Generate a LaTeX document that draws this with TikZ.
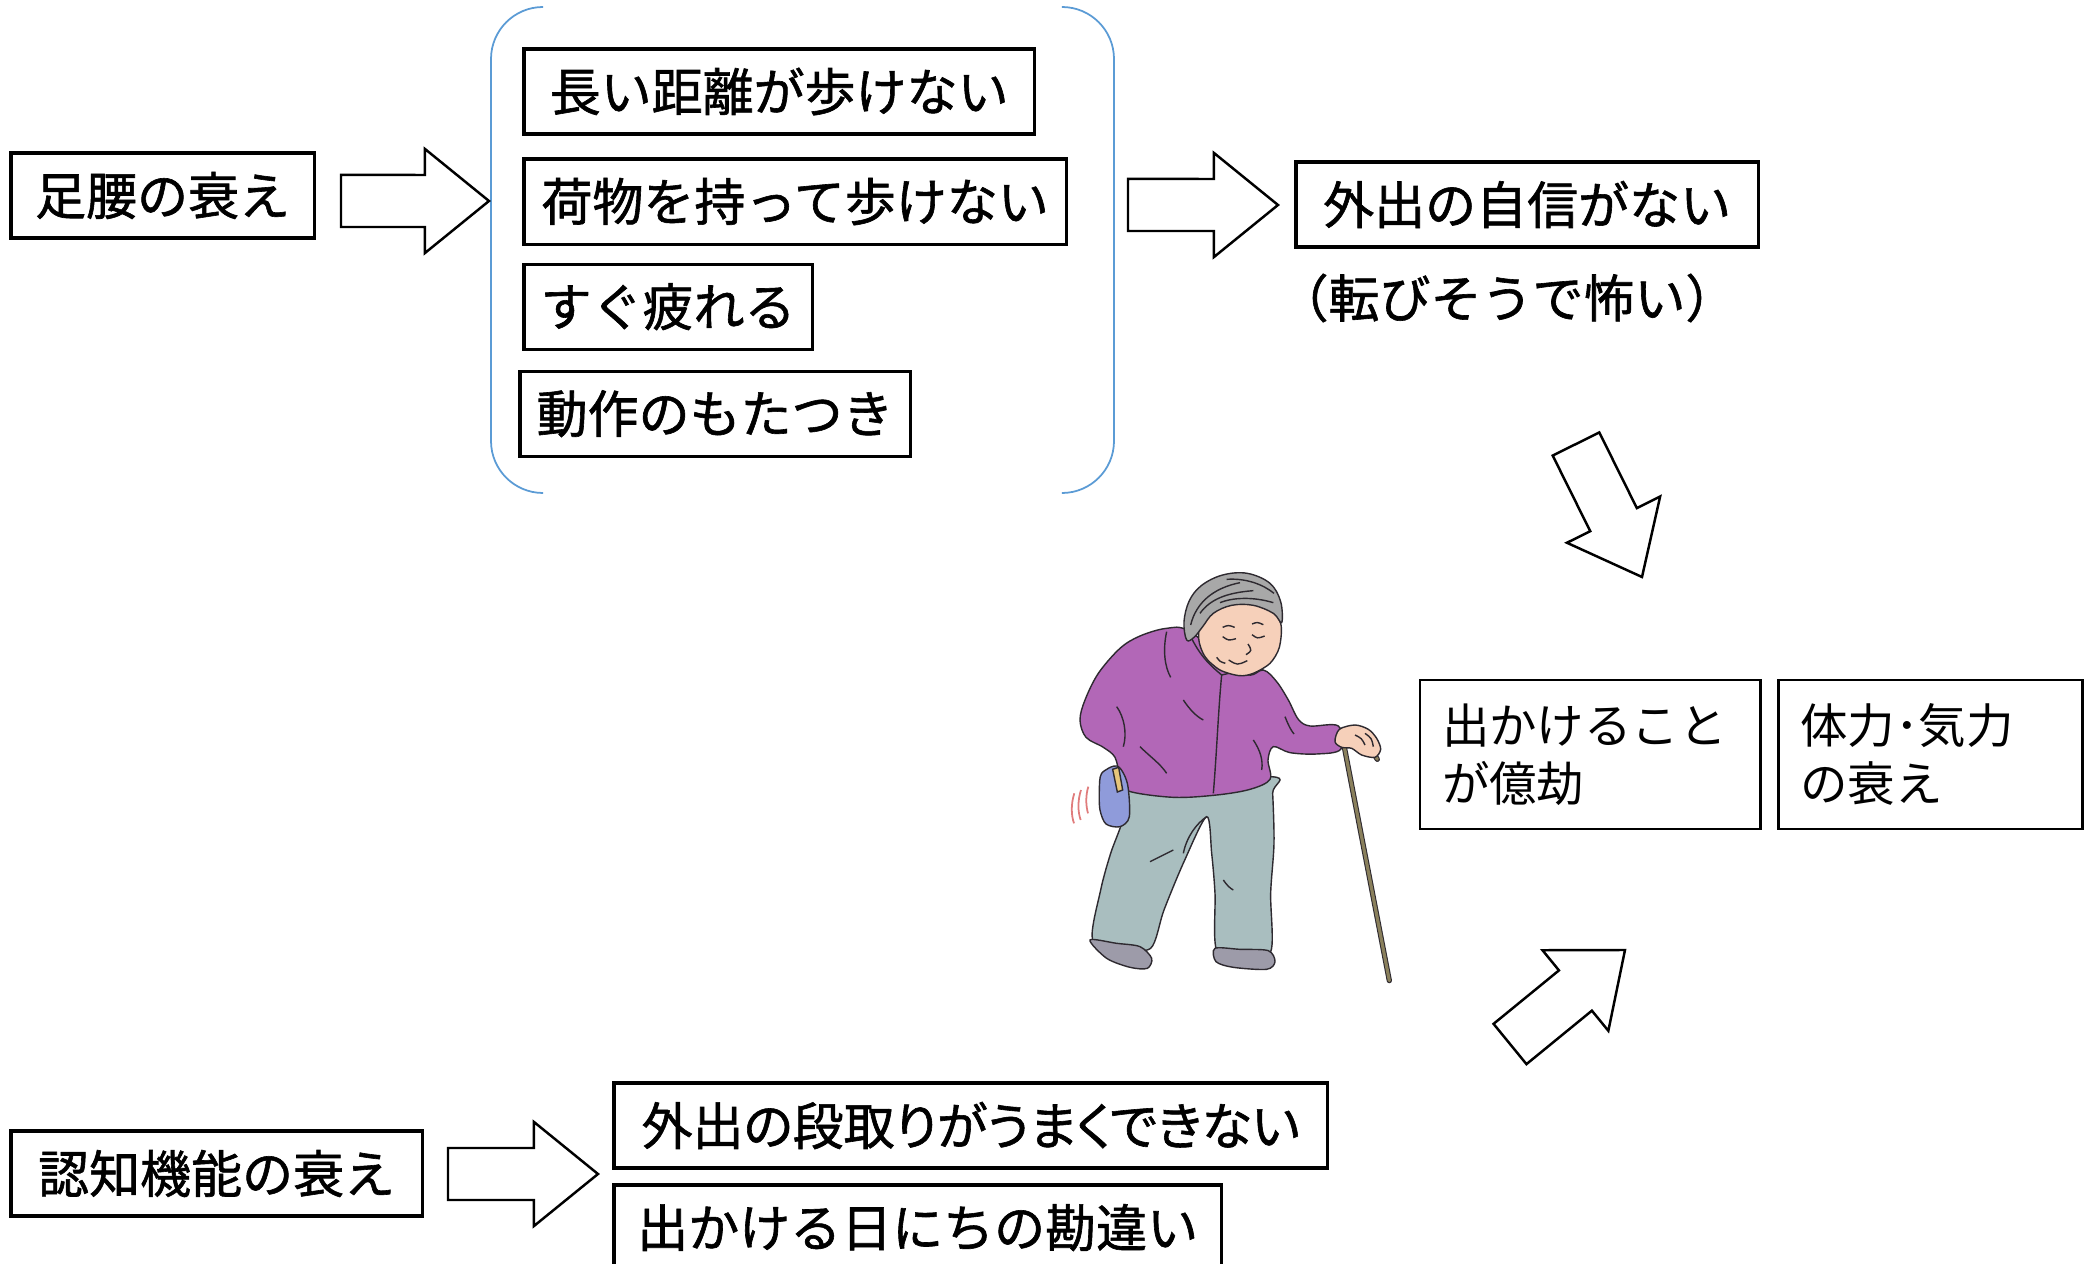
\documentclass[tikz,border=0pt]{standalone}
\usepackage{fontspec}
\newfontfamily\jp{Noto Sans CJK JP}
\newfontfamily\jpb[FakeBold=1.2]{Noto Sans CJK JP}
\usetikzlibrary{positioning, calc}

\definecolor{bracketblue}{HTML}{5B9BD5}
\definecolor{ink}{HTML}{2E2A30}
\definecolor{jacket}{HTML}{B267B7}
\definecolor{trousers}{HTML}{A9BEBF}
\definecolor{shoe}{HTML}{9D9BA9}
\definecolor{hair}{HTML}{A8A8A8}
\definecolor{skin}{HTML}{F6D0BA}
\definecolor{canecol}{HTML}{8A805C}
\definecolor{bag}{HTML}{8F9BDA}
\definecolor{pencil}{HTML}{E6C57A}
\definecolor{shake}{HTML}{E07C7C}

\begin{document}
\begin{tikzpicture}[
    x=0.01cm, y=-0.01cm,
    box/.style={
        draw,
        line width=0.9pt,
        inner sep=0pt,
        outer sep=0pt,
        minimum height=0.85cm,
        font=\jpb\fontsize{14.5pt}{17pt}\selectfont
    },
    wbox/.style={
        draw,
        line width=0.8pt,
        outer sep=0pt,
        inner xsep=0.22cm,
        inner ysep=0pt,
        minimum height=1.49cm,
        text width=2.96cm,
        align=left,
        font=\jp\fontsize{13.5pt}{16.6pt}\selectfont
    },
    fat/.style={
        draw, fill=white, line width=0.7pt,
        to path={
            ($(\tikztostart)!0.26cm!90:(\tikztotarget)$)
            -- ($(\tikztotarget)!0.6908cm!-22.11:(\tikztostart)$)
            -- ($(\tikztotarget)!0.8246cm!-39.09:(\tikztostart)$)
            -- (\tikztotarget)
            -- ($(\tikztotarget)!0.8246cm!39.09:(\tikztostart)$)
            -- ($(\tikztotarget)!0.6908cm!22.11:(\tikztostart)$)
            -- ($(\tikztostart)!0.26cm!-90:(\tikztotarget)$)
            -- cycle}
    },
    bracket/.style={draw=bracketblue, line width=0.5pt, rounded corners=0.52cm},
    outline/.style={draw=ink, line width=0.4pt}
]
\useasboundingbox (0,0) rectangle (2084,1264);

% Top left: legs
\node (leg) [box, minimum width=3.03cm, anchor=north west] at (11,153) {足腰の衰え};

% Group of symptoms
\node (walk) [box, minimum width=5.10cm, anchor=north west] at (524,49) {長い距離が歩けない};
\node (carry) [box, minimum width=5.42cm, below=0.25cm of walk.south west, anchor=north west] {荷物を持って歩けない};
\node (tired) [box, minimum width=2.88cm, below=0.20cm of carry.south west, anchor=north west] {すぐ疲れる};
\node (slow) [box, minimum width=3.90cm, below=0.22cm of tired.south west, anchor=north west, xshift=-0.04cm] {動作のもたつき};
\draw [bracket] (543,7) -- (491,7) -- (491,493) -- (543,493);
\draw [bracket] (1064,7) -- (1114,7) -- (1114,493) -- (1064,493);

% Top right
\node (outing) [box, minimum width=4.62cm, anchor=north west] at (1296,162) {外出の自信がない};
\node (fear) [font=\jpb\fontsize{14.5pt}{17pt}\selectfont, inner sep=0pt] at (1507,298) {（転びそうで怖い）};

% Middle right
\node (bother) [wbox, anchor=north west] at (1420,680) {出かけること\\が億劫};
\node (vigor) [wbox, right=0.18cm of bother, text width=2.60cm] {体力･気力\\の衰え};

% Bottom row
\node (cog) [box, minimum width=4.11cm, anchor=north west] at (11,1131) {認知機能の衰え};
\node (plan) [box, minimum width=7.13cm, anchor=north west] at (614,1083)
    {\addfontfeatures{RawFeature=+palt}外出の段取りがうまくできない};
\node (dates) [box, minimum width=6.07cm, below=0.17cm of plan.south west, anchor=north west] {出かける日にちの勘違い};

% Arrow ends
\coordinate (a1s) at (341,201);  \coordinate (a1e) at (489,201);
\coordinate (a2s) at (1128,205); \coordinate (a2e) at (1278,205);
\coordinate (a3s) at (1576,444); \coordinate (a3e) at (1642,577);
\coordinate (a4s) at (1510,1044); \coordinate (a4e) at (1625,950);
\coordinate (a5s) at (448,1174); \coordinate (a5e) at (598,1174);

\draw [fat] (a1s) to (a1e);
\draw [fat] (a2s) to (a2e);
\draw [fat] (a3s) to (a3e);
\draw [fat] (a4s) to (a4e);
\draw [fat] (a5s) to (a5e);

% Old woman with a cane
\begin{scope}[shift={(1040,560)}, scale=1/3, outline]
    % cane
    \draw [draw=ink, double=canecol, double distance=0.9pt, line width=0.3pt, line cap=round]
        (912,556) -- (1048,1262);
    \draw [draw=ink, double=canecol, double distance=0.9pt, line width=0.3pt, line cap=round]
        (912,556) .. controls (945,545) and (995,562) .. (1012,598);
    % trousers
    \filldraw [fill=trousers] plot[smooth cycle, tension=0.5] coordinates {
        (262,680) (248,780) (212,880) (182,990) (158,1140) (245,1160) (332,1165)
        (372,1050) (432,905) (500,770) (515,880) (525,1000) (530,1170) (610,1176)
        (692,1175) (692,1000) (702,850) (698,700) (692,650)};
    \draw (500,770) .. controls (470,790) and (440,830) .. (430,880);
    \draw (330,905) .. controls (360,890) and (380,880) .. (400,870);
    \draw (550,960) .. controls (560,975) and (570,985) .. (580,990);
    % shoes
    \filldraw [fill=shoe] plot[smooth cycle] coordinates {
        (150,1140) (200,1195) (270,1222) (322,1225) (335,1195) (300,1160) (230,1150)};
    \filldraw [fill=shoe] plot[smooth cycle] coordinates {
        (525,1165) (528,1205) (580,1222) (680,1228) (705,1205) (685,1172) (600,1168)};
    % jacket
    \filldraw [fill=jacket] plot[smooth cycle, tension=0.55] coordinates {
        (450,215) (380,205) (300,228) (240,265) (175,340) (135,420) (120,480)
        (138,532) (190,562) (225,592) (240,650) (262,692) (400,712) (530,705)
        (630,688) (690,658) (684,600) (700,560) (750,578) (830,582) (902,568)
        (895,498) (810,498) (775,478) (745,420) (710,365) (670,330) (610,340)};
    \draw (450,225) .. controls (480,290) and (515,320) .. (545,345);
    \draw (545,345) .. controls (590,335) and (630,320) .. (670,330);
    \draw (545,345) .. controls (535,450) and (530,580) .. (520,700);
    \draw (380,215) .. controls (368,270) and (374,320) .. (392,352);
    \draw (230,440) .. controls (252,470) and (262,520) .. (250,560);
    \draw (300,560) .. controls (330,590) and (360,610) .. (380,640);
    \draw (640,540) .. controls (660,570) and (670,600) .. (665,630);
    \draw (735,470) .. controls (745,495) and (752,510) .. (762,522);
    \draw (430,420) .. controls (450,450) and (470,470) .. (490,480);
    % bag
    \filldraw [fill=bag] plot[smooth cycle] coordinates {
        (185,640) (232,618) (262,670) (268,770) (240,800) (198,792) (180,750) (178,690)};
    \filldraw [fill=pencil] (218,628) -- (236,622) -- (248,690) -- (232,696) -- cycle;
    \draw [draw=shake, line width=0.5pt] (103,700) .. controls (93,730) and (93,765) .. (102,790);
    \draw [draw=shake, line width=0.5pt] (123,690) .. controls (113,720) and (113,755) .. (122,780);
    \draw [draw=shake, line width=0.5pt] (145,680) .. controls (137,705) and (137,735) .. (144,760);
    % face
    \filldraw [fill=skin] plot[smooth cycle] coordinates {
        (490,170) (580,132) (680,138) (722,190) (718,262) (690,310) (640,340)
        (598,347) (540,330) (495,290) (476,235)};
    \draw (548,230) .. controls (565,242) .. (588,236);
    \draw (636,224) .. controls (652,236) .. (674,228);
    \draw (624,252) .. controls (636,272) .. (618,284);
    \draw (566,300) .. controls (592,316) .. (622,302);
    \draw (530,292) .. controls (540,305) .. (556,310);
    \draw (548,202) .. controls (565,195) .. (584,202);
    \draw (636,192) .. controls (652,186) .. (670,194);
    % hair
    \filldraw [fill=hair] plot[smooth cycle, tension=0.6] coordinates {
        (440,240) (432,185) (448,122) (485,76) (548,45) (622,40) (690,70)
        (722,125) (725,188) (700,160) (640,136) (575,136) (520,160) (488,200)
        (462,232)};
    \draw (452,195) .. controls (468,128) and (520,84) .. (600,68);
    \draw (480,160) .. controls (510,118) and (560,98) .. (640,92);
    \draw (540,128) .. controls (580,112) and (640,110) .. (700,128);
    \draw (560,58) .. controls (620,54) and (670,74) .. (702,100);
    % hand
    \filldraw [fill=skin] plot[smooth cycle] coordinates {
        (885,545) (898,508) (945,495) (985,508) (1010,535) (1022,568) (1005,592)
        (965,585) (935,565) (905,562)};
    \draw (945,525) .. controls (965,535) .. (975,555);
    \draw (975,520) .. controls (995,535) .. (1000,560);
\end{scope}

\end{tikzpicture}
\end{document}
